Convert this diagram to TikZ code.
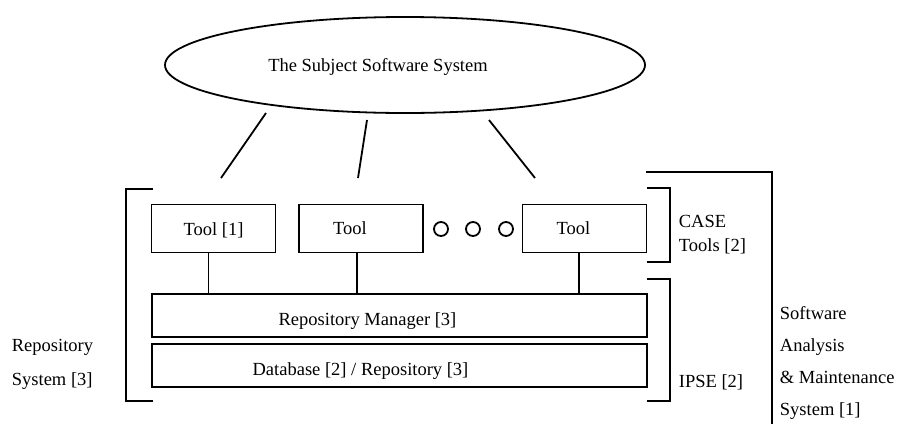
\documentclass[tikz,border=0pt]{standalone}
\usepackage{fontspec}
\setmainfont{Liberation Serif}
\usetikzlibrary{shapes.geometric}

\begin{document}
\begin{tikzpicture}[x=1pt,y=-1pt,line width=1.8pt,
    every node/.style={font=\fontsize{18.5}{22}\selectfont},
    box/.style={draw,rectangle,inner sep=0pt},
    tool/.style={box,minimum width=124pt,minimum height=48pt},
    layer/.style={box,minimum width=495pt,minimum height=43pt},
    dot/.style={draw,circle,inner sep=0pt,minimum size=14pt},
    lbl/.style={align=left,anchor=west,inner sep=0pt,font=\fontsize{18.5}{32}\selectfont}]
        \useasboundingbox (0,0) rectangle (899,424);

        \node[draw,ellipse,minimum width=480pt,minimum height=96pt,
              label={[xshift=-27pt,yshift=-2pt]center:The Subject Software System}] (sys) at (405,65) {};

        \node[tool,label={[yshift=-1.5pt]center:Tool [1]}] (t1) at (213.5,228.5) {};
        \node[tool,label={[xshift=-11pt]center:Tool}] (t2) at (361,228.5) {};
        \node[tool,label={[xshift=-11pt]center:Tool}] (t3) at (584.5,228.5) {};
        \foreach \x/\n in {441/1,473/2,506/3}
            \node[dot] (d\n) at (\x,229) {};

        \node[layer,label={[xshift=-32pt,yshift=-6pt]center:Repository Manager [3]}] (rm) at (399.5,315.5) {};
        \node[layer,label={[xshift=-39pt,yshift=-6pt]center:Database [2] / Repository [3]}] (db) at (399.5,365.5) {};

        % tools to repository manager
        \draw ([xshift=-5pt]t1.south) -- ([xshift=-5pt]t1.south |- rm.north);
        \draw ([xshift=-4pt]t2.south) -- ([xshift=-4pt]t2.south |- rm.north);
        \draw ([xshift=-5.5pt]t3.south) -- ([xshift=-5.5pt]t3.south |- rm.north);

        % subject system to tools
        \coordinate (a1) at (266,113);
        \coordinate (b1) at (221,178);
        \coordinate (a2) at (367,120);
        \coordinate (b2) at (358,178);
        \coordinate (a3) at (489,120);
        \coordinate (b3) at (535,178);
        \draw (a1) -- (b1);
        \draw (a2) -- (b2);
        \draw (a3) -- (b3);

        % brackets
        \draw (153,189) -- (126,189) -- (126,401) -- (153,401);
        \draw (647,188) -- (670,188) -- (670,262) -- (647,262);
        \draw (647,279) -- (670,279) -- (670,401) -- (647,401);
        \draw (646,172) -- (772,172) -- (772,424);

        \node[lbl,font=\fontsize{18.5}{24}\selectfont] (case) at (678,235) {CASE\\Tools [2]};
        \node[lbl] (ipse) at (678,382) {IPSE [2]};
        \node[lbl] (sams) at (779,362.5) {Software\\Analysis\\\& Maintenance\\System [1]};
        \node[lbl,font=\fontsize{18.5}{34}\selectfont] (repsys) at (11,364) {Repository\\System [3]};
\end{tikzpicture}
\end{document}
